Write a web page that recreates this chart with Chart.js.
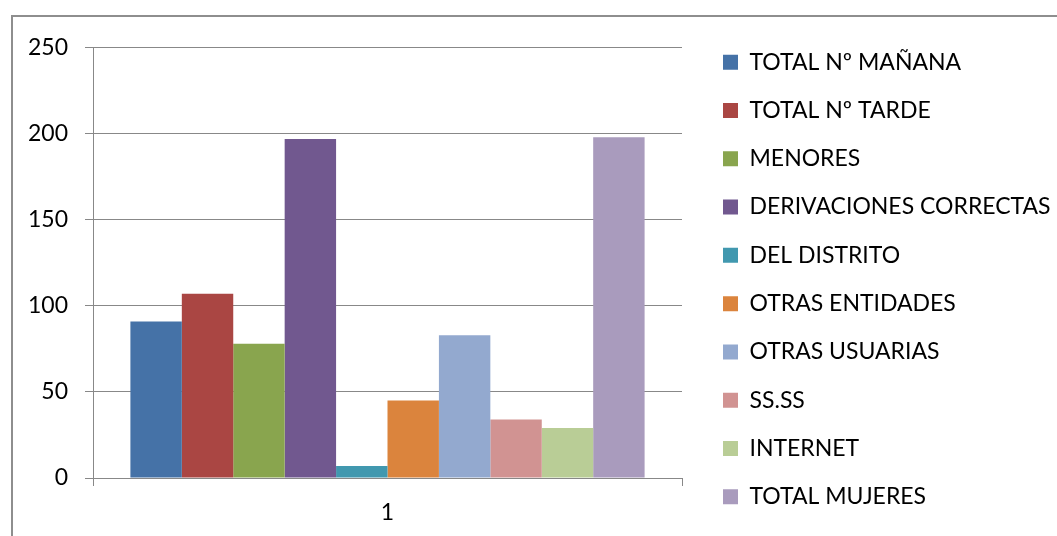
<!DOCTYPE html>
<html>
<head>
<meta charset="utf-8">
<script src="https://cdn.jsdelivr.net/npm/chart.js@4"></script>
<style>
  html, body { margin: 0; padding: 0; background: #fff; overflow: hidden; }
  #frame {
    position: absolute; left: 11px; top: 15px;
    border-left: 2px solid #8e8e8e; border-top: 2px solid #8e8e8e;
  }
  canvas { display: block; }
</style>
</head>
<body>
<div id="frame"><canvas id="myChart"></canvas></div>
<script>
const categories = ["1"];
const seriesNames = [
  "TOTAL Nº MAÑANA", "TOTAL Nº TARDE", "MENORES", "DERIVACIONES CORRECTAS",
  "DEL DISTRITO", "OTRAS ENTIDADES", "OTRAS USUARIAS", "SS.SS", "INTERNET", "TOTAL MUJERES"
];
const seriesValues = [91, 107, 78, 197, 7, 45, 83, 34, 29, 198];
const seriesColors = [
  "#4572A7", "#AA4643", "#89A54E", "#71588F", "#4198AF",
  "#DB843D", "#93A9CF", "#D19392", "#B9CD96", "#A99BBD"
];
const yTickValues = [0, 50, 100, 150, 200, 250];

const fontFamily = "Lato";
const fontSize = 23;
const legendPad = 48.3 - fontSize;
const gridColor = "#888888";

// legend width depends on the longest label, so size the canvas from it
const m = document.createElement("canvas").getContext("2d");
m.font = fontSize + "px " + fontFamily;
let textW = 0;
seriesNames.forEach(function (n) { textW = Math.max(textW, m.measureText(n).width); });

const legendLeft = 710 - legendPad;
const legendW = legendPad + 15 + fontSize / 2 + textW + 10;
const canvasW = Math.ceil(legendLeft + legendW);
const canvasH = 525;

const cv = document.getElementById("myChart");
cv.width = canvasW;
cv.height = canvasH;
cv.style.width = canvasW + "px";
cv.style.height = canvasH + "px";

const datasets = seriesNames.map(function (name, i) {
  return {
    label: name,
    data: [seriesValues[i]],
    backgroundColor: seriesColors[i],
    borderWidth: 0,
    categoryPercentage: 0.873,
    barPercentage: 1
  };
});

const myChart = new Chart(cv, {
  type: "bar",
  data: { labels: categories, datasets: datasets },
  options: {
    responsive: false,
    animation: false,
    layout: { padding: { right: canvasW - legendLeft - legendW } },
    plugins: {
      tooltip: { enabled: false },
      legend: {
        position: "right",
        maxWidth: 2000,
        labels: {
          boxWidth: 15,
          boxHeight: 15,
          padding: legendPad,
          color: "#000",
          font: { family: fontFamily, size: fontSize }
        }
      }
    },
    scales: {
      x: {
        position: "bottom",
        afterFit: function (s) { s.height = canvasH - 461; },
        grid: { display: true, drawOnChartArea: false, drawTicks: true, tickLength: 8, color: gridColor, lineWidth: 1 },
        border: { display: true, color: gridColor, width: 1 },
        ticks: { color: "#000", padding: 13, font: { family: fontFamily, size: fontSize } }
      },
      xTop: {
        type: "category",
        labels: categories,
        position: "top",
        afterFit: function (s) { s.height = 27; },
        grid: { display: false },
        border: { display: false },
        ticks: { display: false }
      },
      y: {
        position: "left",
        min: 0,
        max: 250,
        afterFit: function (s) { s.width = 80; },
        afterBuildTicks: function (s) { s.ticks = yTickValues.map(function (v) { return { value: v }; }); },
        grid: { color: gridColor, lineWidth: 1, tickLength: 8, drawTicks: true },
        border: { display: true, color: gridColor, width: 1 },
        ticks: { color: "#000", padding: 17, font: { family: fontFamily, size: fontSize } }
      },
      yRight: {
        type: "linear",
        position: "right",
        afterFit: function (s) { s.width = legendLeft - 669; },
        grid: { display: false },
        border: { display: false },
        ticks: { display: false }
      }
    }
  }
});
</script>
</body>
</html>
